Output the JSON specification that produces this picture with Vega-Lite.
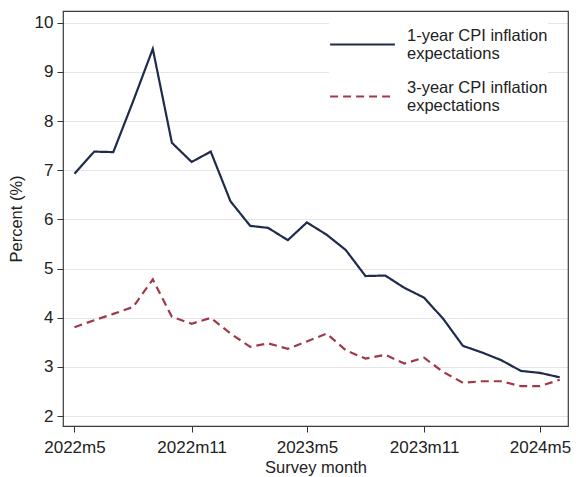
{
  "$schema": "https://vega.github.io/schema/vega-lite/v6.json",
  "width": 505,
  "height": 415,
  "autosize": {"type": "none"},
  "padding": {"left": 63, "top": 11, "right": 8, "bottom": 51},
  "background": "white",
  "config": {
    "view": {"stroke": "#3a3a3a", "strokeWidth": 1.2},
    "style": {"cell": {"strokeForeground": true}},
    "font": "Liberation Sans",
    "axis": {
      "labelFont": "Liberation Sans",
      "titleFont": "Liberation Sans",
      "labelFontSize": 17,
      "titleFontSize": 16.5,
      "labelColor": "#222",
      "titleColor": "#222",
      "titleFontWeight": "normal",
      "tickColor": "#333",
      "tickSize": 6,
      "domain": false
    },
    "legend": {
      "title": null,
      "orient": "none",
      "legendX": 266,
      "legendY": 0,
      "fillColor": "white",
      "padding": 0,
      "symbolType": "stroke",
      "symbolSize": 4200,
      "symbolStrokeWidth": 2,
      "labelFont": "Liberation Sans",
      "labelFontSize": 16.5,
      "labelColor": "#222",
      "labelLimit": 0,
      "labelOffset": 11,
      "labelBaseline": "line-bottom",
      "rowPadding": -31
    }
  },
  "data": {
    "values": [
      {"month": "2022-05-01", "series": "1yr", "value": 6.93},
      {"month": "2022-06-01", "series": "1yr", "value": 7.38},
      {"month": "2022-07-01", "series": "1yr", "value": 7.37},
      {"month": "2022-08-01", "series": "1yr", "value": 8.4},
      {"month": "2022-09-01", "series": "1yr", "value": 9.47},
      {"month": "2022-10-01", "series": "1yr", "value": 7.56},
      {"month": "2022-11-01", "series": "1yr", "value": 7.17},
      {"month": "2022-12-01", "series": "1yr", "value": 7.38},
      {"month": "2023-01-01", "series": "1yr", "value": 6.37},
      {"month": "2023-02-01", "series": "1yr", "value": 5.87},
      {"month": "2023-03-01", "series": "1yr", "value": 5.83},
      {"month": "2023-04-01", "series": "1yr", "value": 5.58},
      {"month": "2023-05-01", "series": "1yr", "value": 5.94},
      {"month": "2023-06-01", "series": "1yr", "value": 5.69},
      {"month": "2023-07-01", "series": "1yr", "value": 5.38},
      {"month": "2023-08-01", "series": "1yr", "value": 4.85},
      {"month": "2023-09-01", "series": "1yr", "value": 4.86},
      {"month": "2023-10-01", "series": "1yr", "value": 4.61},
      {"month": "2023-11-01", "series": "1yr", "value": 4.41},
      {"month": "2023-12-01", "series": "1yr", "value": 3.98},
      {"month": "2024-01-01", "series": "1yr", "value": 3.43},
      {"month": "2024-02-01", "series": "1yr", "value": 3.29},
      {"month": "2024-03-01", "series": "1yr", "value": 3.14},
      {"month": "2024-04-01", "series": "1yr", "value": 2.92},
      {"month": "2024-05-01", "series": "1yr", "value": 2.88},
      {"month": "2024-06-01", "series": "1yr", "value": 2.79},
      {"month": "2022-05-01", "series": "3yr", "value": 3.81},
      {"month": "2022-06-01", "series": "3yr", "value": 3.95},
      {"month": "2022-07-01", "series": "3yr", "value": 4.08},
      {"month": "2022-08-01", "series": "3yr", "value": 4.22},
      {"month": "2022-09-01", "series": "3yr", "value": 4.78},
      {"month": "2022-10-01", "series": "3yr", "value": 4.02},
      {"month": "2022-11-01", "series": "3yr", "value": 3.88},
      {"month": "2022-12-01", "series": "3yr", "value": 4.0},
      {"month": "2023-01-01", "series": "3yr", "value": 3.68},
      {"month": "2023-02-01", "series": "3yr", "value": 3.41},
      {"month": "2023-03-01", "series": "3yr", "value": 3.48},
      {"month": "2023-04-01", "series": "3yr", "value": 3.37},
      {"month": "2023-05-01", "series": "3yr", "value": 3.52},
      {"month": "2023-06-01", "series": "3yr", "value": 3.68},
      {"month": "2023-07-01", "series": "3yr", "value": 3.34},
      {"month": "2023-08-01", "series": "3yr", "value": 3.17},
      {"month": "2023-09-01", "series": "3yr", "value": 3.25},
      {"month": "2023-10-01", "series": "3yr", "value": 3.07},
      {"month": "2023-11-01", "series": "3yr", "value": 3.19},
      {"month": "2023-12-01", "series": "3yr", "value": 2.9},
      {"month": "2024-01-01", "series": "3yr", "value": 2.68},
      {"month": "2024-02-01", "series": "3yr", "value": 2.71},
      {"month": "2024-03-01", "series": "3yr", "value": 2.71},
      {"month": "2024-04-01", "series": "3yr", "value": 2.61},
      {"month": "2024-05-01", "series": "3yr", "value": 2.61},
      {"month": "2024-06-01", "series": "3yr", "value": 2.74}
    ]
  },
  "mark": {"type": "line", "strokeWidth": 2.2},
  "encoding": {
    "x": {
      "field": "month",
      "type": "temporal",
      "scale": {
        "type": "utc",
        "domain": [
          {"year": 2022, "month": 4, "date": 13, "utc": true},
          {"year": 2024, "month": 6, "date": 14, "utc": true}
        ]
      },
      "axis": {
        "title": "Survey month",
        "titlePadding": 4,
        "labelPadding": 7,
        "grid": false,
        "values": [
          {"year": 2022, "month": 5, "date": 1, "utc": true},
          {"year": 2022, "month": 11, "date": 1, "utc": true},
          {"year": 2023, "month": 5, "date": 1, "utc": true},
          {"year": 2023, "month": 11, "date": 1, "utc": true},
          {"year": 2024, "month": 5, "date": 1, "utc": true}
        ],
        "labelExpr": "utcyear(datum.value) + 'm' + (utcmonth(datum.value) + 1)"
      }
    },
    "y": {
      "field": "value",
      "type": "quantitative",
      "scale": {"domain": [1.8, 10.24], "nice": false, "zero": false},
      "axis": {
        "title": "Percent (%)",
        "values": [2, 3, 4, 5, 6, 7, 8, 9, 10],
        "grid": true,
        "gridColor": "#e6e6e6",
        "gridWidth": 1.2,
        "labelPadding": 4,
        "titlePadding": 10
      }
    },
    "color": {
      "field": "series",
      "type": "nominal",
      "scale": {"domain": ["1yr", "3yr"], "range": ["#1f2b4d", "#9e3a4a"]},
      "legend": {
        "labelExpr": "datum.label == '1yr' ? ['1-year CPI inflation', 'expectations'] : ['3-year CPI inflation', 'expectations']"
      }
    },
    "strokeDash": {
      "field": "series",
      "type": "nominal",
      "scale": {"domain": ["1yr", "3yr"], "range": [[1, 0], [8, 5]]},
      "legend": {
        "labelExpr": "datum.label == '1yr' ? ['1-year CPI inflation', 'expectations'] : ['3-year CPI inflation', 'expectations']"
      }
    }
  }
}
